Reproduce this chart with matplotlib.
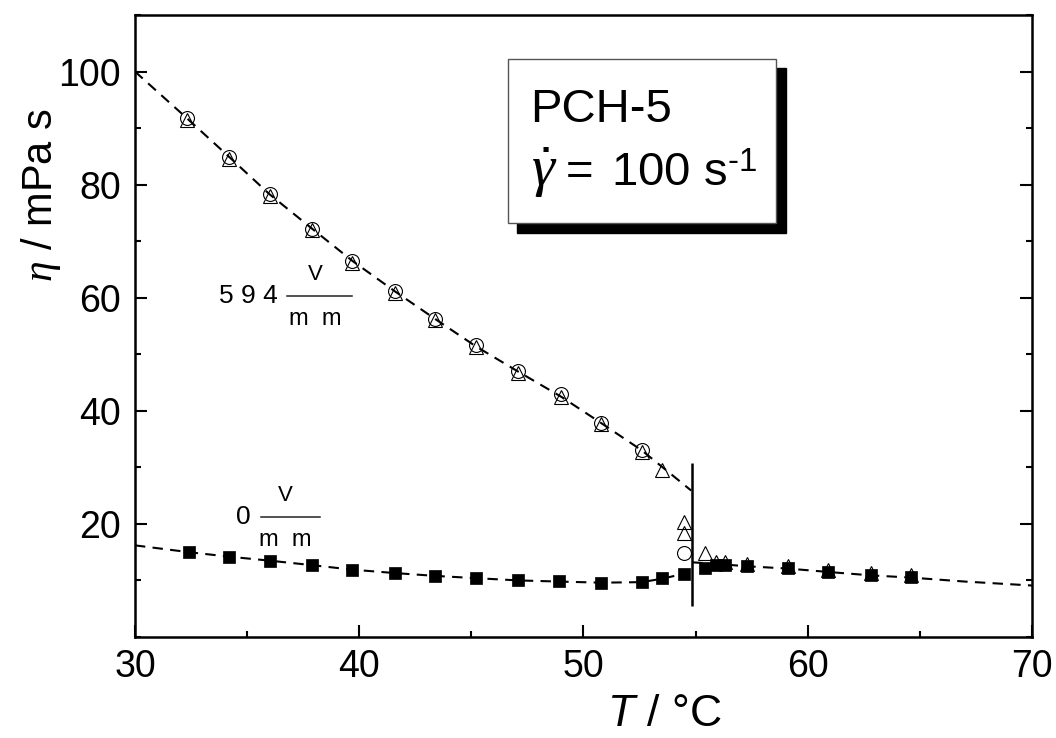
import matplotlib
matplotlib.use("Agg")
import matplotlib.pyplot as plt
import matplotlib.patches as patches
from matplotlib.ticker import MultipleLocator

plt.rcParams['font.family'] = ['Liberation Sans', 'DejaVu Sans']
plt.rcParams['mathtext.fontset'] = 'custom'
plt.rcParams['mathtext.rm'] = 'Liberation Sans'
plt.rcParams['mathtext.it'] = 'Liberation Serif:italic'
plt.rcParams['mathtext.sf'] = 'Liberation Sans:italic'

# 594 V/mm (open circles / open triangles)
T_circ = [32.3, 34.2, 36.0, 37.9, 39.7, 41.6, 43.4, 45.2, 47.1, 49.0, 50.8, 52.6, 54.5]
eta_circ = [91.7, 84.9, 78.3, 72.2, 66.5, 61.2, 56.3, 51.6, 47.0, 42.9, 37.9, 33.1, 14.9]

T_tri = [32.3, 34.2, 36.0, 37.9, 39.7, 41.6, 43.4, 45.2, 47.1, 49.0, 50.8, 52.6,
         53.5, 54.5, 54.5, 55.4, 55.9, 56.3, 57.3, 59.1, 60.9, 62.8, 64.6]
eta_tri = [91.4, 84.6, 78.0, 71.9, 66.2, 60.9, 56.0, 51.2, 46.7, 42.4, 37.6, 32.8,
           29.6, 20.4, 18.4, 14.9, 13.3, 13.2, 12.9, 12.5, 11.9, 11.3, 10.9]

# 0 V/mm (filled squares)
T_sq = [32.4, 34.2, 36.0, 37.9, 39.7, 41.6, 43.4, 45.2, 47.1, 48.9, 50.8, 52.6,
        53.5, 54.5, 55.4, 55.9, 56.3, 57.3, 59.1, 60.9, 62.8, 64.6]
eta_sq = [15.0, 14.2, 13.5, 12.7, 11.9, 11.3, 10.8, 10.4, 10.0, 9.9, 9.6, 9.7,
          10.5, 11.2, 12.2, 12.8, 12.8, 12.5, 12.2, 11.5, 10.9, 10.6]

# dashed guide curves
T_fit_up = [30.0, 32.3, 34.2, 36.0, 37.9, 39.7, 41.6, 43.4, 45.2, 47.1, 49.0, 50.8, 52.6, 53.5, 54.8]
eta_fit_up = [100.0, 91.8, 84.9, 78.3, 72.2, 66.5, 61.1, 56.2, 51.4, 46.9, 42.5, 37.8, 33.0, 30.1, 25.9]

T_fit_lo1 = [30.0, 32.4, 34.2, 36.0, 37.9, 39.7, 41.6, 43.4, 45.2, 47.1, 48.9, 50.8, 52.6, 53.5, 54.5]
eta_fit_lo1 = [16.2, 15.0, 14.2, 13.5, 12.7, 11.9, 11.3, 10.8, 10.4, 10.0, 9.8, 9.6, 9.7, 10.3, 11.2]

T_fit_lo2 = [54.85, 56.0, 57.3, 59.1, 60.9, 62.8, 64.6, 67.0, 70.0]
eta_fit_lo2 = [13.2, 12.9, 12.5, 12.1, 11.5, 10.9, 10.5, 9.8, 9.1]

T_clear = 54.85
clear_lo, clear_hi = 5.5, 30.8


def field_label(ax, x_num, x_bar0, x_bar1, x_txt, y, num):
    # "<num>  V / m m" written as a stacked fraction
    ax.text(x_num, y, num, fontsize=19, ha='left', va='center')
    ax.text(x_txt, y + 1.9, 'V', fontsize=16, ha='center', va='bottom')
    ax.text(x_txt, y - 2.2, 'm  m', fontsize=17, ha='center', va='top')
    ax.plot([x_bar0, x_bar1], [y, y], color='#222222', lw=1.1)


fig = plt.figure(figsize=(10.56, 7.38), dpi=100)
ax = fig.add_axes([0.1278, 0.1369, 0.8495, 0.8428])

dash = (0, (5, 3.5))
ax.plot(T_fit_up, eta_fit_up, color='black', lw=1.5, linestyle=dash, zorder=2)
ax.plot(T_fit_lo1, eta_fit_lo1, color='black', lw=1.5, linestyle=dash, zorder=2)
ax.plot(T_fit_lo2, eta_fit_lo2, color='black', lw=1.5, linestyle=dash, zorder=2)
ax.vlines(T_clear, clear_lo, clear_hi, color='black', lw=1.8, zorder=2)

ax.plot(T_tri, eta_tri, linestyle='none', marker='^', ms=10.5, mfc='none', mec='black', mew=0.8, zorder=3)
ax.plot(T_circ, eta_circ, linestyle='none', marker='o', ms=10, mfc='none', mec='black', mew=0.8, zorder=3)
ax.plot(T_sq, eta_sq, linestyle='none', marker='s', ms=9, mfc='black', mec='black', mew=0.5, zorder=4)

ax.set_xlim(30, 70)
ax.set_ylim(0, 110)
ax.set_xticks([30, 40, 50, 60, 70])
ax.set_yticks([20, 40, 60, 80, 100])
ax.xaxis.set_minor_locator(MultipleLocator(5))
ax.yaxis.set_minor_locator(MultipleLocator(10))

for s in ax.spines.values():
    s.set_linewidth(1.8)
ax.tick_params(which='both', direction='in', left=True, right=True, bottom=True, top=False, width=1.5)
ax.tick_params(which='major', length=8.5, labelsize=27)
ax.tick_params(which='minor', length=4.3)
ax.tick_params(axis='x', pad=9)
ax.tick_params(axis='y', pad=10)

ax.set_xlabel(r'$\mathsf{T}$ / °C', fontsize=32)
ax.set_ylabel(r'$\eta$ / mPa s', fontsize=30)
ax.xaxis.set_label_coords(0.59, -0.092)
ax.yaxis.set_label_coords(-0.080, 0.711)

# field labels
field_label(ax, 33.75, 36.78, 39.67, 38.03, 60.3, '5 9 4')
field_label(ax, 34.5, 35.62, 38.25, 36.7, 21.3, '0')

# sample box with shadow
ax.add_patch(patches.Rectangle((0.4259, 0.6493), 0.2999, 0.2656, transform=ax.transAxes,
                               facecolor='black', edgecolor='black', zorder=5))
ax.add_patch(patches.Rectangle((0.4158, 0.6654), 0.2988, 0.2634, transform=ax.transAxes,
                               facecolor='white', edgecolor='#555555', lw=1, zorder=6))
ax.text(0.4404, 0.8286, 'PCH-5', transform=ax.transAxes, fontsize=34, va='baseline', zorder=7)
ax.text(0.4410, 0.7243, r'$\dot{\gamma}$', transform=ax.transAxes, fontsize=42, va='baseline', zorder=7)
ax.text(0.4790, 0.7243, '= $\\,$100 s$^{\u2010\\mathrm{1}}$', transform=ax.transAxes,
        fontsize=34, va='baseline', zorder=7)

fig.savefig('out.png', dpi=100)
